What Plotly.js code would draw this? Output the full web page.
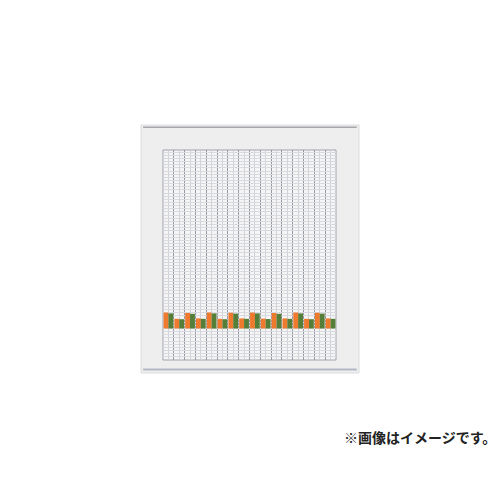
<!DOCTYPE html>
<html lang="ja">
  <head>
    <meta charset="UTF-8" />
    <title>Board chart</title>
    <script src="https://cdn.plot.ly/plotly-3.0.1.min.js"></script>
    <style>
      body {
        margin: 0;
        background: #ffffff;
      }
      #chart {
        width: 500px;
        height: 500px;
      }
    </style>
  </head>
  <body>
    <div id="chart"></div>
    <script>
      // 16 columns on the board, bars sit in every column
      const columns = [0.5, 1.5, 2.5, 3.5, 4.5, 5.5, 6.5, 7.5, 8.5, 9.5, 10.5, 11.5, 12.5, 13.5, 14.5, 15.5];
      const orangeVals = [7.6, 4.6, 7.4, 4.8, 7.6, 4.6, 7.5, 4.8, 7.6, 4.7, 7.4, 4.8, 7.6, 4.6, 7.5, 4.8];
      const greenVals = [7.2, 4.4, 7.0, 4.6, 7.2, 4.4, 7.1, 4.6, 7.2, 4.5, 7.0, 4.6, 7.2, 4.4, 7.1, 4.6];
      const note = "※画像はイメージです。";

      const traces = [
        {
          type: "bar",
          x: columns,
          y: orangeVals,
          name: "orange",
          marker: { color: "#ef7a2e" },
          hoverinfo: "skip",
        },
        {
          type: "bar",
          x: columns,
          y: greenVals,
          name: "green",
          marker: { color: "#557f38" },
          hoverinfo: "skip",
        },
      ];

      const layout = {
        width: 500,
        height: 500,
        margin: { l: 163, r: 164, t: 150, b: 140 },
        paper_bgcolor: "#ffffff",
        plot_bgcolor: "rgba(0,0,0,0)",
        showlegend: false,
        barmode: "group",
        bargap: 0.1,
        bargroupgap: 0,
        xaxis: {
          range: [0, 16],
          tickmode: "linear",
          tick0: 0,
          dtick: 1,
          showticklabels: false,
          ticks: "",
          zeroline: false,
          showgrid: true,
          gridcolor: "#979aa4",
          gridwidth: 1,
          minor: { tickmode: "linear", tick0: 0.5, dtick: 1, showgrid: true, gridcolor: "#d0d2d8", gridwidth: 1 },
          fixedrange: true,
        },
        yaxis: {
          range: [-15, 85],
          tickmode: "linear",
          tick0: 0,
          dtick: 1.5,
          showticklabels: false,
          ticks: "",
          zeroline: false,
          showgrid: true,
          gridcolor: "#d9dadf",
          gridwidth: 1,
          fixedrange: true,
        },
        shapes: [
          // board body
          {
            type: "rect", xref: "paper", yref: "paper", layer: "below",
            x0: -0.127, x1: 1.133, y0: -0.062, y1: 1.119,
            fillcolor: "#eeeeef", line: { color: "#dcdcde", width: 1 },
          },
          // top rail
          {
            type: "line", xref: "paper", yref: "paper", layer: "below",
            x0: -0.115, x1: 1.12, y0: 1.108, y1: 1.108,
            line: { color: "#a6a6ac", width: 1.5 },
          },
          // bottom rail
          {
            type: "line", xref: "paper", yref: "paper", layer: "below",
            x0: -0.115, x1: 1.12, y0: -0.045, y1: -0.045,
            line: { color: "#b4b7c6", width: 2 },
          },
          // grid area
          {
            type: "rect", xref: "paper", yref: "paper", layer: "below",
            x0: 0, x1: 1, y0: 0, y1: 1,
            fillcolor: "#f5f5f6", line: { color: "#a0a3ae", width: 1 },
          },
        ],
        annotations: [
          {
            text: "<b>" + note + "</b>",
            xref: "paper", yref: "paper",
            x: 1.486, y: -0.367,
            xanchor: "center", yanchor: "middle",
            showarrow: false,
            font: { family: "Noto Sans CJK JP", size: 14, color: "#222222" },
          },
        ],
      };

      Plotly.newPlot("chart", traces, layout, { displayModeBar: false, staticPlot: true });
    </script>
  </body>
</html>
